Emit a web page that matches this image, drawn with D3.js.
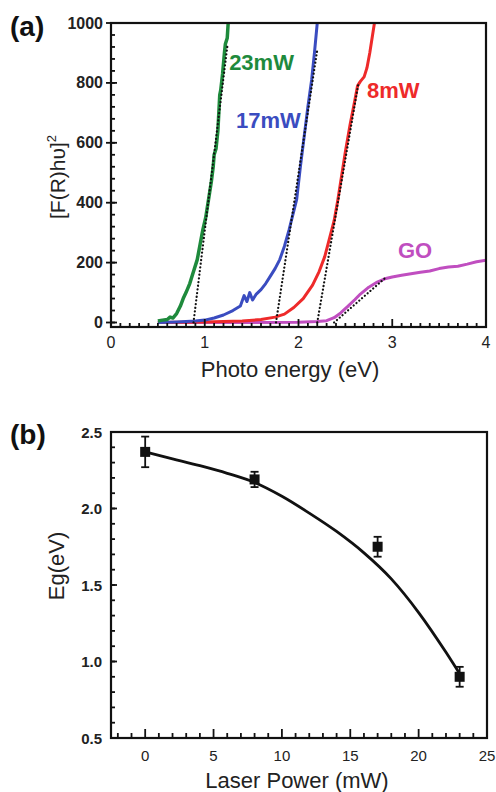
<!DOCTYPE html>
<html><head><meta charset="utf-8">
<script src="https://cdn.jsdelivr.net/npm/d3@7"></script>
<style>body{margin:0;background:#fff}svg{display:block}text{font-family:"Liberation Sans",Arial,sans-serif}</style>
</head><body><svg id="c" width="496" height="792"></svg>
<script>
// ---- Panel (a) data: [photon energy eV, (F(R)hv)^2]
const green23 = [[0.50,5],[0.55,8],[0.60,10],[0.63,18],[0.66,15],[0.70,30],[0.74,55],[0.77,80],[0.80,100],[0.84,130],[0.88,170],[0.92,210],[0.95,260],[0.98,310],[1.01,350],[1.04,410],[1.07,470],[1.09,520],[1.10,560],[1.12,580],[1.14,640],[1.16,760],[1.17,775],[1.19,830],[1.21,900],[1.22,930],[1.24,950],[1.25,1000]];
const blue17 = [[0.50,0],[0.70,2],[0.90,5],[1.00,8],[1.10,15],[1.20,25],[1.30,40],[1.38,55],[1.42,90],[1.45,70],[1.48,100],[1.51,75],[1.55,95],[1.60,110],[1.65,130],[1.70,155],[1.75,180],[1.80,210],[1.85,255],[1.90,310],[1.94,360],[1.98,410],[2.02,520],[2.06,620],[2.10,720],[2.14,810],[2.17,900],[2.20,1000]];
const red8 = [[0.50,0],[1.00,2],[1.40,5],[1.60,10],[1.75,18],[1.85,28],[1.95,50],[2.05,80],[2.15,125],[2.22,170],[2.28,220],[2.33,280],[2.38,340],[2.42,410],[2.46,490],[2.50,570],[2.55,660],[2.60,740],[2.63,790],[2.66,805],[2.70,820],[2.73,850],[2.76,900],[2.79,960],[2.81,1000]];
const goCurve = [[0.50,0],[1.50,0],[2.00,1],[2.20,3],[2.30,6],[2.38,16],[2.45,32],[2.52,52],[2.60,76],[2.66,95],[2.75,118],[2.84,135],[2.92,146],[3.00,152],[3.10,158],[3.20,163],[3.30,168],[3.40,172],[3.50,180],[3.60,185],[3.70,188],[3.80,195],[3.90,203],[4.00,208]];
const tangentGreen = [[0.88,0],[1.24,920]];
const tangentBlue = [[1.76,0],[2.20,910]];
const tangentRed = [[2.20,0],[2.64,800]];
const tangentGO = [[2.38,0],[2.93,150]];
const seriesNames = ["23mW","17mW","8mW","GO"];
const xTicksA = [0,1,2,3,4];
const yTicksA = [0,200,400,600,800,1000];

// ---- Panel (b) data
const laserPower = [0,8,17,23];
const bandGap = [2.37,2.19,1.75,0.90];
const bandGapErr = [0.10,0.05,0.065,0.065];
const fitX = [0,2,4,6,8,10,12,14,16,18,20,22,23];
const fitY = [2.37,2.325,2.28,2.23,2.17,2.08,1.97,1.85,1.71,1.54,1.32,1.06,0.92];
const xTicksB = [0,5,10,15,20,25];
const yTicksB = [0.5,1.0,1.5,2.0,2.5];

const svg = d3.select("#c");
const colors = {"23mW":"#1e8a3c","17mW":"#3a4cc0","8mW":"#ee2a2a","GO":"#c04ec0"};
const txt = "#222";

// ===== Panel (a)
const xa = d3.scaleLinear().domain([0,4]).range([111,486]);
const ya = d3.scaleLinear().domain([-15,1000]).range([327,23]);
const ga = svg.append("g");
const lineA = d3.line().x(d=>xa(d[0])).y(d=>ya(d[1]));
svg.append("defs").append("clipPath").attr("id","clipA").append("rect")
  .attr("x",xa(0)).attr("y",ya(1000)).attr("width",xa(4)-xa(0)).attr("height",ya(-15)-ya(1000));
const plotA = ga.append("g").attr("clip-path","url(#clipA)");
[[goCurve,"GO"],[red8,"8mW"],[blue17,"17mW"],[green23,"23mW"]].forEach(([d,n])=>{
  plotA.append("path").datum(d).attr("d",lineA).attr("fill","none")
    .attr("stroke",colors[n]).attr("stroke-width",n==="23mW"?3.5:3).attr("stroke-linejoin","round");
});
[tangentGreen,tangentBlue,tangentRed,tangentGO].forEach(d=>{
  plotA.append("path").datum(d).attr("d",lineA).attr("fill","none")
    .attr("stroke","#111").attr("stroke-width",2.2).attr("stroke-dasharray","0.1,3.6").attr("stroke-linecap","round");
});
ga.append("rect").attr("x",xa(0)).attr("y",ya(1000)).attr("width",xa(4)-xa(0)).attr("height",ya(-15)-ya(1000))
  .attr("fill","none").attr("stroke","#111").attr("stroke-width",2.2);
const xMinorA = d3.range(0,4.0001,0.1);
ga.selectAll(".xma").data(xMinorA).join("line")
  .attr("x1",d=>xa(d)).attr("x2",d=>xa(d)).attr("y1",ya(-15)).attr("y2",(d)=>ya(-15)-(Math.abs(d-Math.round(d))<1e-6?8:4))
  .attr("stroke","#111").attr("stroke-width",1.8);
ga.selectAll(".xla").data(xTicksA).join("text")
  .attr("x",d=>xa(d)).attr("y",348).attr("text-anchor","middle").attr("font-size",16).attr("fill",txt).text(d=>d);
const yMinorA = d3.range(0,1000.1,40);
ga.selectAll(".yma").data(yMinorA).join("line")
  .attr("x1",xa(0)).attr("x2",xa(0)+4).attr("y1",d=>ya(d)).attr("y2",d=>ya(d))
  .attr("stroke","#111").attr("stroke-width",1.8);
ga.selectAll(".yMa").data(yTicksA).join("line")
  .attr("x1",xa(0)-5).attr("x2",xa(0)+6).attr("y1",d=>ya(d)).attr("y2",d=>ya(d))
  .attr("stroke","#111").attr("stroke-width",1.8);
ga.selectAll(".yla").data(yTicksA).join("text")
  .attr("x",103).attr("y",d=>ya(d)+5.5).attr("text-anchor","end").attr("font-size",16).attr("font-weight","bold").attr("fill",txt).text(d=>d);
ga.append("text").attr("x",290).attr("y",377).attr("text-anchor","middle").attr("font-size",22).attr("fill",txt).text("Photo energy (eV)");
const yl = ga.append("text").attr("transform","translate(65,177) rotate(-90)").attr("text-anchor","middle").attr("font-size",21).attr("fill",txt);
yl.append("tspan").text("[F(R)h\u03C5]");
yl.append("tspan").attr("font-size",13).attr("dy",-9).text("2");
ga.append("text").attr("x",10).attr("y",36).attr("font-size",28).attr("font-weight","bold").attr("fill","#111").text("(a)");
const labelPos = {"23mW":[1.26,843],"17mW":[1.333,649],"8mW":[2.73,750],"GO":[3.06,215]};
seriesNames.forEach(n=>{
  ga.append("text").attr("x",xa(labelPos[n][0])).attr("y",ya(labelPos[n][1])).attr("font-size",22)
    .attr("font-weight","bold").attr("fill",colors[n]).text(n);
});

// ===== Panel (b)
const xb = d3.scaleLinear().domain([-2.5,25]).range([111,487]);
const yb = d3.scaleLinear().domain([0.5,2.5]).range([738,432]);
const gb = svg.append("g");
gb.append("rect").attr("x",xb(-2.5)).attr("y",yb(2.5)).attr("width",xb(25)-xb(-2.5)).attr("height",yb(0.5)-yb(2.5))
  .attr("fill","none").attr("stroke","#111").attr("stroke-width",2.2);
const xMinorB = d3.range(-2,25,1);
gb.selectAll(".xmb").data(xMinorB).join("line")
  .attr("x1",d=>xb(d)).attr("x2",d=>xb(d)).attr("y1",yb(0.5)).attr("y2",d=>yb(0.5)-(d%5===0?9:5))
  .attr("stroke","#111").attr("stroke-width",1.8);
gb.selectAll(".xlb").data(xTicksB).join("text")
  .attr("x",d=>xb(d)).attr("y",761).attr("text-anchor","middle").attr("font-size",15).attr("fill",txt).text(d=>d);
const yMinorB = d3.range(0.6,2.5,0.1);
gb.selectAll(".ymb").data(yMinorB).join("line")
  .attr("x1",xb(-2.5)).attr("x2",xb(-2.5)+4).attr("y1",d=>yb(d)).attr("y2",d=>yb(d))
  .attr("stroke","#111").attr("stroke-width",1.8);
gb.selectAll(".yMb").data(yTicksB).join("line")
  .attr("x1",xb(-2.5)).attr("x2",xb(-2.5)+6).attr("y1",d=>yb(d)).attr("y2",d=>yb(d))
  .attr("stroke","#111").attr("stroke-width",1.8);
gb.selectAll(".ylb").data(yTicksB).join("text")
  .attr("x",102).attr("y",d=>yb(d)+5.5).attr("text-anchor","end").attr("font-size",15).attr("font-weight","bold").attr("fill",txt).text(d=>d.toFixed(1));
gb.append("text").attr("x",297).attr("y",788).attr("text-anchor","middle").attr("font-size",22).attr("fill",txt).text("Laser Power (mW)");
gb.append("text").attr("transform","translate(64,566) rotate(-90)").attr("text-anchor","middle").attr("font-size",22).attr("fill",txt).text("Eg(eV)");
gb.append("text").attr("x",10).attr("y",444).attr("font-size",28).attr("font-weight","bold").attr("fill","#111").text("(b)");
const fitPts = fitX.map((x,i)=>[x,fitY[i]]);
gb.append("path").datum(fitPts).attr("d",d3.line().curve(d3.curveMonotoneX).x(d=>xb(d[0])).y(d=>yb(d[1])))
  .attr("fill","none").attr("stroke","#111").attr("stroke-width",2.8);
laserPower.forEach((x,i)=>{
  const cx = xb(x), y0 = yb(bandGap[i]-bandGapErr[i]), y1 = yb(bandGap[i]+bandGapErr[i]);
  gb.append("line").attr("x1",cx).attr("x2",cx).attr("y1",y0).attr("y2",y1).attr("stroke","#111").attr("stroke-width",1.8);
  [y0,y1].forEach(y=>gb.append("line").attr("x1",cx-4).attr("x2",cx+4).attr("y1",y).attr("y2",y).attr("stroke","#111").attr("stroke-width",1.8));
  gb.append("rect").attr("x",cx-5).attr("y",yb(bandGap[i])-5).attr("width",10).attr("height",10).attr("fill","#111");
});
</script></body></html>
